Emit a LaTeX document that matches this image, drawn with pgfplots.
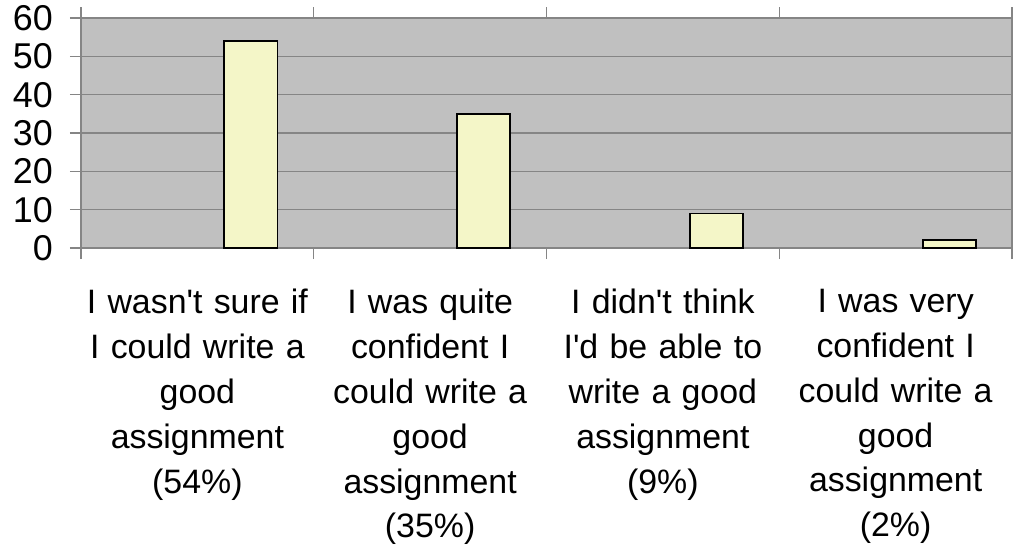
\documentclass[border=0pt]{standalone}
\usepackage{pgfplots}
\pgfplotsset{compat=1.18}
\usepackage{fontspec}
\setmainfont{Liberation Sans}
\definecolor{plotbg}{HTML}{C0C0C0}
\definecolor{gridc}{HTML}{858585}
\definecolor{barfill}{HTML}{F4F6C8}
\begin{document}
\begin{tikzpicture}
\path[use as bounding box] (-81bp,-304bp) rectangle (932bp,248bp);
\begin{axis}[
  at={(0,0)}, anchor=south west,
  scale only axis, width=931bp, height=230bp,
  xmin=0, xmax=4, ymin=0, ymax=60,
  ytick={0,10,...,60},
  ymajorgrids,
  grid style={color=gridc, line width=1.5bp},
  axis background/.style={fill=plotbg},
  axis line style={color=gridc, line width=1.2bp},
  tick style={color=gridc, line width=1.2bp},
  tick align=outside,
  major tick length=11bp,
  xtick={0,1,2,3,4},
  xticklabels={,,,,},
  extra x ticks={0.5,1.5,2.5,3.5},
  extra x tick labels={
    {I wasn\textquotesingle t sure if\\I could write a\\good\\assignment\\(54\%)},
    {I was quite\\confident I\\could write a\\good\\assignment\\(35\%)},
    {I didn\textquotesingle t think\\I\textquotesingle d be able to\\write a good\\assignment\\(9\%)},
    {I was very\\confident I\\could write a\\good\\assignment\\(2\%)}},
  extra x tick style={major tick length=0pt, grid=none,
    x tick label style={text width=232bp, align=center, inner sep=0pt, anchor=north, yshift=-41bp}},
  y tick label style={font=\fontsize{36}{38}\selectfont, inner sep=0pt, anchor=east, xshift=-17bp},
  /pgf/number format/assume math mode=true,
  x tick label style={font=\fontsize{34}{45}\selectfont},
  clip=false,
]
\addplot[ybar, bar width=0.228, fill=barfill, draw=black, line width=1.8bp] coordinates {
  (0.73,54) (1.73,35) (2.73,9) (3.73,2)
};
\end{axis}
\end{tikzpicture}
\end{document}
